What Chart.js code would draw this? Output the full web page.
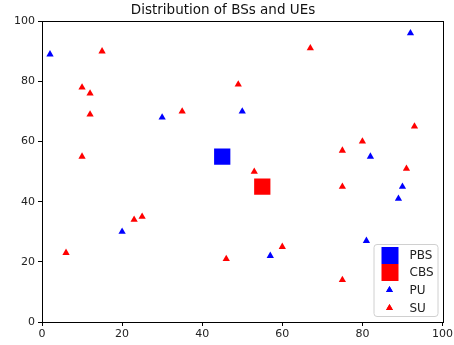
<!DOCTYPE html>
<html>
<head>
<meta charset="utf-8">
<script src="https://cdn.jsdelivr.net/npm/chart.js@4/dist/chart.umd.min.js"></script>
<style>
  html, body { margin: 0; padding: 0; background: #fff; }
  #wrap { width: 454px; height: 345px; }
</style>
</head>
<body>
<div id="wrap"><canvas id="c" width="454" height="345"></canvas></div>
<script>
// base stations
const pbsX = [45];
const pbsY = [55];
const cbsX = [55];
const cbsY = [45];
// primary users
const puX = [2, 30, 50, 20, 57, 81, 82, 89, 90, 92];
const puY = [89, 68, 70, 30, 22, 27, 55, 41, 45, 96];
// secondary users
const suX = [15, 10, 12, 12, 10, 6, 23, 25, 35, 49, 53, 46, 60, 67, 75, 75, 75, 80, 91, 93];
const suY = [90, 78, 76, 69, 55, 23, 34, 35, 70, 79, 50, 21, 25, 91, 57, 45, 14, 60, 51, 65];
const xTicks = [0, 20, 40, 60, 80, 100];
const yTicks = [0, 20, 40, 60, 80, 100];

const FONT = 'DejaVu Sans';

function pts(xs, ys) {
    return xs.map((x, i) => ({x: x, y: ys[i]}));
}

// matplotlib-like frame + legend inside lower right
const framePlugin = {
    id: 'frame',
    afterDraw(chart) {
        const ctx = chart.ctx;
        const a = chart.chartArea;
        ctx.save();
        ctx.strokeStyle = '#000';
        ctx.lineWidth = 1;
        ctx.strokeRect(Math.round(a.left) + 0.5, Math.round(a.top) + 0.5,
                       Math.round(a.right - a.left), Math.round(a.bottom - a.top));

        // legend box
        const bx = a.right - 69, by = a.bottom - 78, bw = 64, bh = 72;
        ctx.fillStyle = 'rgba(255,255,255,0.8)';
        ctx.strokeStyle = '#d0d0d0';
        ctx.beginPath();
        ctx.roundRect(bx + 0.5, by + 0.5, bw, bh, 3);
        ctx.fill();
        ctx.stroke();

        const rows = [by + 11, by + 28, by + 46, by + 64];
        chart.data.datasets.forEach((ds, i) => {
            const cy = rows[i];
            const cx = bx + 16;
            ctx.fillStyle = ds.backgroundColor;
            if (ds.pointStyle === 'rect') {
                ctx.fillRect(cx - 8, cy - 8, 17, 17);
            } else {
                Chart.helpers.drawPoint(ctx, {pointStyle: 'triangle', radius: 4, rotation: 0, borderWidth: 0}, cx, cy);
                ctx.fill();
            }
            ctx.fillStyle = '#222';
            ctx.font = '12px "' + FONT + '"';
            ctx.textBaseline = 'middle';
            ctx.textAlign = 'left';
            ctx.fillText(ds.label, bx + 36, cy + 1);
        });
        ctx.restore();
    }
};

// drop the room Chart.js keeps for the half "100" label on the right
function noSidePad(s) {
    s.paddingLeft = 0;
    s.paddingRight = 0;
    if (s._margins) { s._margins.left = 0; s._margins.right = 0; }
}

new Chart(document.getElementById('c'), {
    type: 'scatter',
    data: {
        datasets: [
            {label: 'PBS', data: pts(pbsX, pbsY), pointStyle: 'rect', pointRadius: 11.5,
             backgroundColor: '#0000ff', borderColor: '#0000ff', borderWidth: 0},
            {label: 'CBS', data: pts(cbsX, cbsY), pointStyle: 'rect', pointRadius: 11.5,
             backgroundColor: '#ff0000', borderColor: '#ff0000', borderWidth: 0},
            {label: 'PU', data: pts(puX, puY), pointStyle: 'triangle', pointRadius: 4.2,
             backgroundColor: '#0000ff', borderColor: '#0000ff', borderWidth: 0},
            {label: 'SU', data: pts(suX, suY), pointStyle: 'triangle', pointRadius: 4.2,
             backgroundColor: '#ff0000', borderColor: '#ff0000', borderWidth: 0}
        ]
    },
    options: {
        responsive: false,
        animation: false,
        layout: {padding: {left: 0, right: 8, top: 0, bottom: 0}},
        plugins: {
            legend: {display: false},
            tooltip: {enabled: false},
            title: {
                display: true,
                text: 'Distribution of BSs and UEs',
                color: '#111',
                font: {family: FONT, size: 13.5, weight: 'normal'},
                padding: {top: 2, bottom: 3}
            }
        },
        scales: {
            x: {
                type: 'linear',
                min: 0, max: 100,
                afterBuildTicks(s) { s.ticks = xTicks.map(v => ({value: v})); },
                afterFit(s) { s.height = 23; noSidePad(s); },
                afterUpdate(s) { noSidePad(s); },
                grid: {display: true, drawOnChartArea: false, drawTicks: true, tickLength: 4, color: '#000'},
                border: {display: false},
                ticks: {color: '#222', font: {family: FONT, size: 11}, padding: 2, maxRotation: 0}
            },
            y: {
                type: 'linear',
                min: 0, max: 100,
                afterBuildTicks(s) { s.ticks = yTicks.map(v => ({value: v})); },
                afterFit(s) { s.width = 42; s.paddingTop = 0; s.paddingBottom = 0; },
                grid: {display: true, drawOnChartArea: false, drawTicks: true, tickLength: 4, color: '#000'},
                border: {display: false},
                ticks: {color: '#222', font: {family: FONT, size: 11}, padding: 3}
            }
        }
    },
    plugins: [framePlugin]
});
</script>
</body>
</html>
